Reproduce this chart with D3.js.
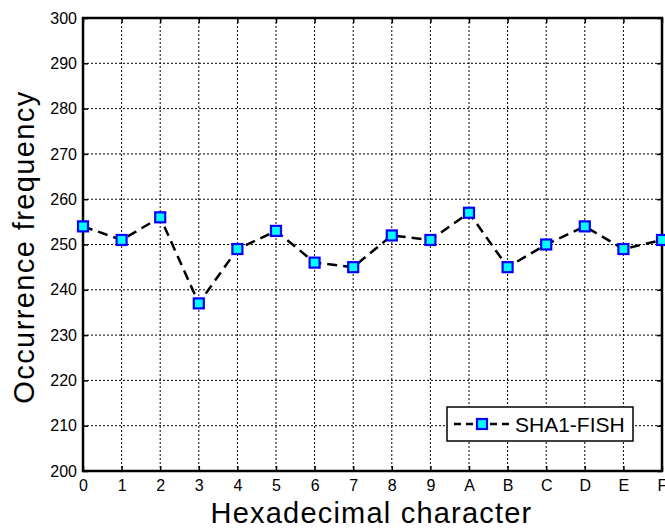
<!DOCTYPE html>
<html>
<head>
<style>
  body { margin: 0; background: #fff; overflow: hidden; }
  text { font-family: "Liberation Sans", Arial, sans-serif; fill: #000; }
</style>
<script src="https://d3js.org/d3.v7.min.js"></script>
</head>
<body>
<svg width="665" height="528"></svg>
<script>
var categories = ["0","1","2","3","4","5","6","7","8","9","A","B","C","D","E","F"];
var frequency = [254, 251, 256, 237, 249, 253, 246, 245, 252, 251, 257, 245, 250, 254, 249, 251];
var yTicks = [200, 210, 220, 230, 240, 250, 260, 270, 280, 290, 300];
var seriesName = "SHA1-FISH";

var svg = d3.select("svg");
var mLeft = 83, mRight = 662, mTop = 18, mBottom = 471;

var x = d3.scalePoint().domain(categories).range([mLeft, mRight]);
var y = d3.scaleLinear().domain([200, 300]).range([mBottom, mTop]);

// grid
var grid = svg.append("g");
grid.selectAll(".vg").data(categories.slice(1, -1)).enter().append("line")
  .attr("x1", function (d) { return x(d); }).attr("x2", function (d) { return x(d); })
  .attr("y1", mTop).attr("y2", mBottom)
  .attr("stroke", "#000").attr("stroke-width", 1).attr("stroke-dasharray", "2,2");
grid.selectAll(".hg").data(yTicks.slice(1, -1)).enter().append("line")
  .attr("x1", mLeft).attr("x2", mRight)
  .attr("y1", function (d) { return y(d); }).attr("y2", function (d) { return y(d); })
  .attr("stroke", "#000").attr("stroke-width", 1).attr("stroke-dasharray", "2,2");

// axes
svg.append("g").attr("transform", "translate(0," + mBottom + ")")
  .call(d3.axisBottom(x).tickSize(-5).tickPadding(9));
svg.append("g").attr("transform", "translate(" + mLeft + ",0)")
  .call(d3.axisLeft(y).tickValues(yTicks).tickSize(-5).tickPadding(6));
svg.append("g").attr("transform", "translate(0," + mTop + ")")
  .call(d3.axisTop(x).tickSize(-5).tickFormat(""));
svg.append("g").attr("transform", "translate(" + mRight + ",0)")
  .call(d3.axisRight(y).tickValues(yTicks).tickSize(-5).tickFormat(""));
svg.selectAll(".domain").remove();
svg.selectAll(".tick line").attr("stroke", "#000").attr("stroke-width", 1.5);
svg.selectAll(".tick text").attr("fill", "#000")
  .style("font-family", "'Liberation Sans', Arial, sans-serif").style("font-size", "16px");

svg.append("rect").attr("x", mLeft).attr("y", mTop)
  .attr("width", mRight - mLeft).attr("height", mBottom - mTop)
  .attr("fill", "none").attr("stroke", "#000").attr("stroke-width", 2.5);

// series
var line = d3.line()
  .x(function (d, i) { return x(categories[i]); })
  .y(function (d) { return y(d); });
svg.append("path").datum(frequency)
  .attr("d", line).attr("fill", "none")
  .attr("stroke", "#000").attr("stroke-width", 2.5).attr("stroke-dasharray", "10,6");

var ms = 10;
svg.selectAll(".pt").data(frequency).enter().append("rect")
  .attr("x", function (d, i) { return x(categories[i]) - ms / 2; })
  .attr("y", function (d) { return y(d) - ms / 2; })
  .attr("width", ms).attr("height", ms)
  .attr("fill", "#00ffff").attr("stroke", "#0000ff").attr("stroke-width", 2.2);

// legend
var lg = svg.append("g").attr("transform", "translate(447,407)");
lg.append("rect").attr("width", 186).attr("height", 34)
  .attr("fill", "#fff").attr("stroke", "#000").attr("stroke-width", 1.5);
lg.append("line").attr("x1", 7).attr("x2", 63).attr("y1", 17).attr("y2", 17)
  .attr("stroke", "#000").attr("stroke-width", 2.5).attr("stroke-dasharray", "7,5");
lg.append("rect").attr("x", 35 - ms / 2).attr("y", 17 - ms / 2)
  .attr("width", ms).attr("height", ms)
  .attr("fill", "#00ffff").attr("stroke", "#0000ff").attr("stroke-width", 2.2);
lg.append("text").attr("x", 68).attr("y", 25).style("font-size", "21px").text(seriesName);

// titles
svg.append("text").attr("x", (mLeft + mRight) / 2 - 1).attr("y", 523)
  .attr("text-anchor", "middle").style("font-size", "29px").style("letter-spacing", "1.2px")
  .text("Hexadecimal character");
svg.append("text").attr("transform", "translate(34,247) rotate(-90)")
  .attr("text-anchor", "middle").style("font-size", "29px").style("letter-spacing", "1.4px")
  .text("Occurrence frequency");
</script>
</body>
</html>
